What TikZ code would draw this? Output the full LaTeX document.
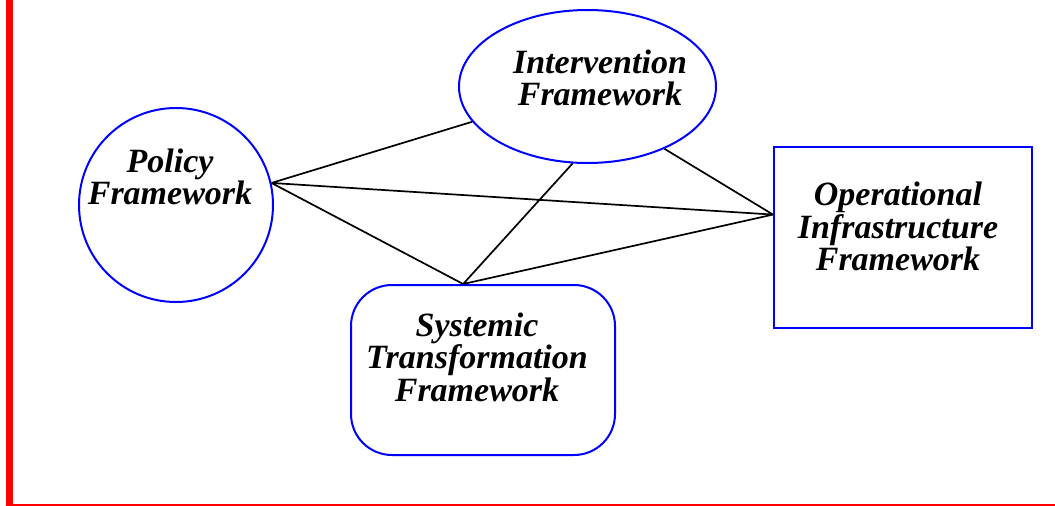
\documentclass[tikz,border=0pt]{standalone}
\usepackage{fontspec}
\setmainfont{Liberation Serif}
\usetikzlibrary{shapes.geometric}

\begin{document}
\begin{tikzpicture}[x=1pt,y=-1pt,
    frame/.style={draw=blue,line width=2pt,inner sep=0pt},
    fwtext/.style={align=center,inner sep=0pt,font=\fontsize{34}{32.5}\selectfont\bfseries\itshape},
    link/.style={line width=1.7pt}]
  \useasboundingbox (0,0) rectangle (1055,506);
  % red margin
  \fill[red] (6,0) rectangle (13,506);
  \fill[red] (13,503.5) rectangle (1055,505.5);

  \node (policy) at (176,205) [frame,circle,minimum size=194pt] {};
  \node (interv) at (587.5,86.5) [frame,ellipse,minimum width=257pt,minimum height=153pt] {};
  \node (ops) at (903,237.5) [frame,rectangle,minimum width=258pt,minimum height=181pt] {};
  \node (systemic) at (483,370) [frame,rectangle,rounded corners=41pt,minimum width=264pt,minimum height=170pt] {};

  \node (policy-txt) at (170,177) [fwtext] {Policy\\Framework};
  \node (interv-txt) at (600,78) [fwtext] {Intervention\\Framework};
  \node (ops-txt) at (898,226.5) [fwtext] {Operational\\Infrastructure\\Framework};
  \node (systemic-txt) at (477,357) [fwtext] {Systemic\\Transformation\\Framework};

  \draw[link] (policy.13) -- (interv.197.7) (policy.13) -- (ops.170.1) (policy.13) -- (systemic.103.2)
    (systemic.103.2) -- (interv.259) (systemic.103.2) -- (ops.170.1) (interv.321.6) -- (ops.170.1);

\end{tikzpicture}
\end{document}
